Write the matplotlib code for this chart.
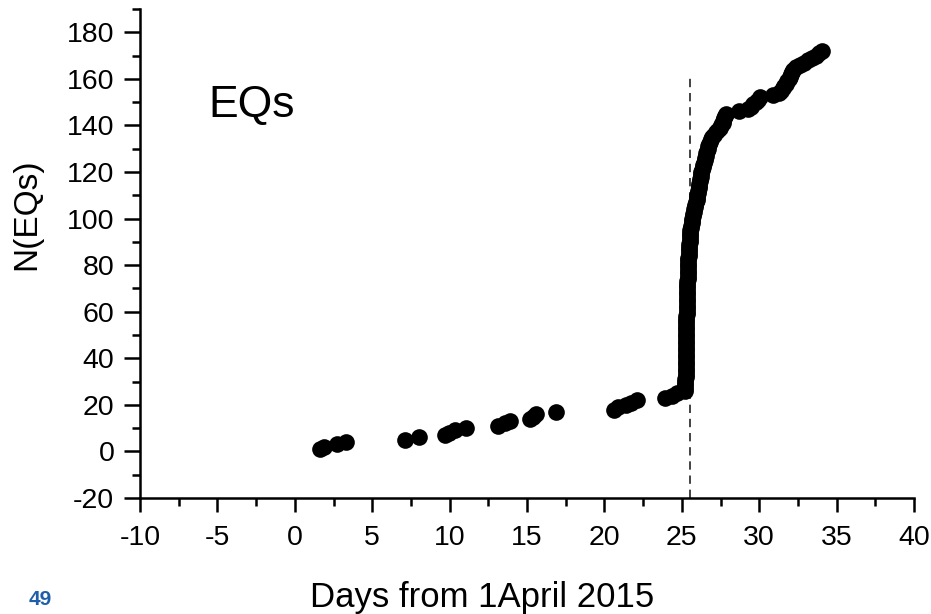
import numpy as np
import matplotlib
matplotlib.use("Agg")
import matplotlib.pyplot as plt
from matplotlib.ticker import MultipleLocator

plt.rcParams['font.family'] = ['Liberation Sans', 'DejaVu Sans']
plt.rcParams['axes.unicode_minus'] = False

# Event times (days from 1 April 2015), in order of occurrence
days_before_mainshock = [
    1.62, 1.90, 2.70, 3.30, 7.10, 8.05, 9.70, 9.95, 10.35, 11.05,
    13.15, 13.55, 13.90, 15.20, 15.40, 15.55, 16.90, 20.60, 20.90, 21.40,
    21.75, 22.10, 23.90, 24.35, 24.70, 25.20,
]
days_mainshock_burst = [
    25.22, 25.22, 25.23, 25.23, 25.23, 25.24, 25.24, 25.24, 25.25, 25.25,
    25.25, 25.25, 25.26, 25.26, 25.26, 25.26, 25.27, 25.27, 25.27, 25.27,
    25.28, 25.28, 25.28, 25.28, 25.29, 25.29, 25.29, 25.29, 25.30, 25.30,
    25.30, 25.30, 25.31, 25.31, 25.31, 25.31, 25.32, 25.32, 25.32, 25.33,
    25.33, 25.33, 25.34, 25.34, 25.35, 25.35, 25.36,
    25.37, 25.38, 25.38, 25.39, 25.40, 25.40, 25.41, 25.42, 25.43, 25.43,
    25.44, 25.45, 25.46, 25.47, 25.48, 25.49, 25.50, 25.51, 25.52, 25.53,
    25.54, 25.55,
]
days_aftershocks = [
    25.58, 25.61, 25.63, 25.66, 25.69, 25.72, 25.75, 25.78, 25.81, 25.84,
    25.87, 25.91, 25.95,
    25.98, 26.01, 26.04, 26.06, 26.09, 26.11, 26.14, 26.16, 26.19, 26.21,
    26.24, 26.27, 26.31, 26.35,
    26.39, 26.43, 26.47, 26.51, 26.55, 26.59, 26.63, 26.67, 26.71, 26.76,
    26.81, 26.88,
    26.98, 27.10, 27.22, 27.35, 27.48,
    27.56, 27.63, 27.69, 27.74, 27.79, 27.85,
    28.70,
    29.25, 29.45, 29.62, 29.80,
    29.95, 30.05,
    30.88,
    31.25, 31.40, 31.52, 31.63, 31.72, 31.82,
    31.92, 32.00, 32.06, 32.12, 32.18,
    32.40, 32.65, 32.90, 33.15,
    33.40, 33.65, 33.88, 34.08,
]

mainshock_day = 25.5
mainshock_line_top = 162

x_ticks = [-10, -5, 0, 5, 10, 15, 20, 25, 30, 35, 40]
y_ticks = [-20, 0, 20, 40, 60, 80, 100, 120, 140, 160, 180]

days = np.array(days_before_mainshock + days_mainshock_burst + days_aftershocks)
n_eqs = np.arange(1, days.size + 1)  # cumulative number of events

fig = plt.figure(figsize=(9.31, 6.14), dpi=100)
ax = fig.add_axes([140 / 931, 1 - 498 / 614, 774 / 931, 489 / 614])

ax.vlines(mainshock_day, -20, mainshock_line_top, colors='#222222',
          linestyles=(0, (5, 3.5)), linewidth=1.2, zorder=1)
ax.plot(days, n_eqs, 'o', color='black', markersize=12,
        markeredgewidth=0, zorder=3, clip_on=False)

ax.set_xlim(-10, 40)
ax.set_ylim(-20, 190)
ax.set_xticks(x_ticks)
ax.set_yticks(y_ticks)
ax.xaxis.set_minor_locator(MultipleLocator(2.5))
ax.yaxis.set_minor_locator(MultipleLocator(10))

for side in ('top', 'right'):
    ax.spines[side].set_visible(False)
for side in ('left', 'bottom'):
    ax.spines[side].set_linewidth(1.8)

ax.tick_params(axis='both', which='both', direction='out', width=1.8,
               colors='black')
ax.tick_params(axis='x', which='major', length=10, pad=9.5, labelsize=20.5)
ax.tick_params(axis='x', which='minor', length=5.5)
ax.tick_params(axis='y', which='major', length=11.5, pad=7, labelsize=20.5)
ax.tick_params(axis='y', which='minor', length=6)

ax.set_xlabel('Days from 1April 2015', fontsize=25)
ax.xaxis.label.set_ha('left')
ax.xaxis.set_label_coords(0.220, -0.169)

ax.set_ylabel('N(EQs)', fontsize=24)
ax.yaxis.set_label_coords(-0.1266, 0.581)

ax.text(-5.6, 143.5, 'EQs', fontsize=32, va='baseline', ha='left')

fig.text(29 / 931, 1 - 605 / 614, '49', color='#1f5ea8', fontsize=15,
         fontweight='bold', va='baseline', ha='left')

fig.savefig('out.png', dpi=100)
